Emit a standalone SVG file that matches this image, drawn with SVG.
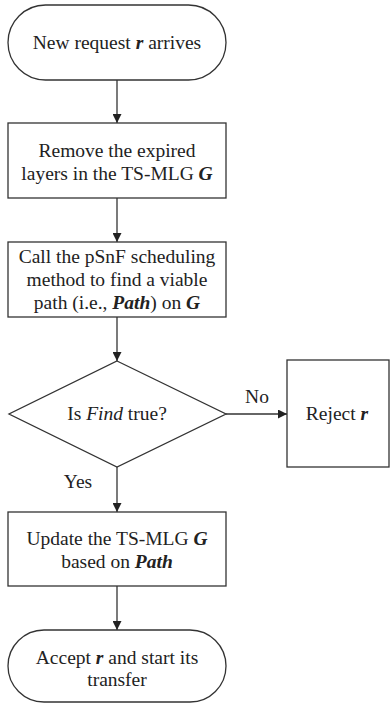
<svg xmlns="http://www.w3.org/2000/svg" width="390" height="703" viewBox="0 0 390 703">
<defs>
<marker id="ah" viewBox="0 0 10 10" refX="10" refY="5" markerWidth="9" markerHeight="9" markerUnits="userSpaceOnUse" orient="auto"><path d="M0,0 L10,5 L0,10 z" fill="#222"/></marker>
<style>
.s{fill:#fff;stroke:#333;stroke-width:1.3}
.c{fill:none;stroke:#333;stroke-width:1.3;marker-end:url(#ah)}
text{font-family:'Liberation Serif','Times New Roman',serif;font-size:19.5px;fill:#222;text-anchor:middle}
.b{font-weight:bold;font-style:italic}
.i{font-style:italic}
</style>
</defs>
<g id="connectors">
<line class="c" x1="117" y1="80" x2="117" y2="123"/>
<line class="c" x1="117" y1="198" x2="117" y2="242"/>
<line class="c" x1="117" y1="317" x2="117" y2="361"/>
<line class="c" x1="226" y1="414" x2="287" y2="414"/>
<line class="c" x1="117" y1="467" x2="117" y2="512"/>
<line class="c" x1="117" y1="586" x2="117" y2="630"/>
<text x="257" y="403">No</text>
<text x="78" y="488">Yes</text>
</g>
<g id="start">
<rect class="s" x="8" y="5" width="218" height="75" rx="37.5"/>
<text x="117" y="49">New request <tspan class="b">r</tspan> arrives</text>
</g>
<g id="remove">
<rect class="s" x="8" y="123" width="218" height="75"/>
<text x="117" y="157">Remove the expired</text>
<text x="117" y="180">layers in the TS-MLG <tspan class="b">G</tspan></text>
</g>
<g id="call">
<rect class="s" x="8" y="242" width="218" height="75"/>
<text x="117" y="263">Call the pSnF scheduling</text>
<text x="117" y="286">method to find a viable</text>
<text x="117" y="309">path (i.e., <tspan class="b">Path</tspan>) on <tspan class="b">G</tspan></text>
</g>
<g id="decision">
<polygon class="s" points="117,361 226,414 117,467 9,414"/>
<text x="117" y="420">Is <tspan class="i">Find</tspan> true?</text>
</g>
<g id="reject">
<rect class="s" x="287" y="360" width="102" height="107"/>
<text x="337" y="420">Reject <tspan class="b">r</tspan></text>
</g>
<g id="update">
<rect class="s" x="8" y="512" width="218" height="74"/>
<text x="117" y="545">Update the TS-MLG <tspan class="b">G</tspan></text>
<text x="117" y="568">based on <tspan class="b">Path</tspan></text>
</g>
<g id="accept">
<rect class="s" x="8" y="630" width="218" height="72" rx="36"/>
<text x="117" y="664">Accept <tspan class="b">r</tspan> and start its</text>
<text x="117" y="686">transfer</text>
</g>
</svg>
